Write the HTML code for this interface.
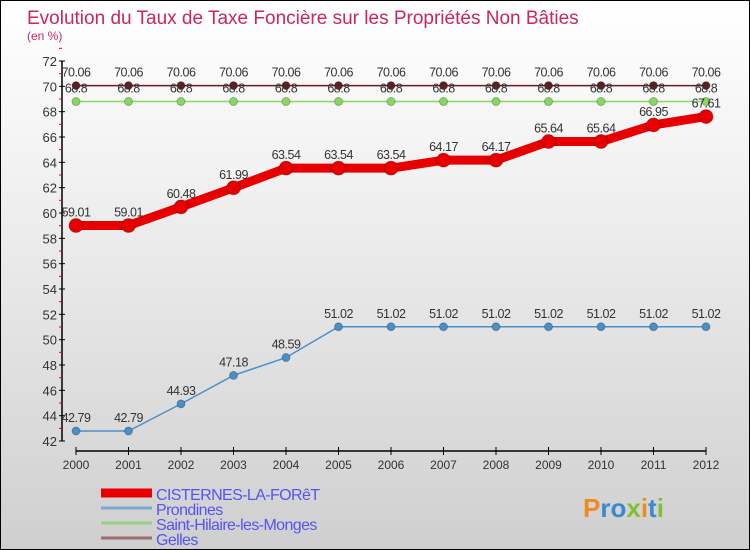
<!DOCTYPE html>
<html><head><meta charset="utf-8"><style>
body{margin:0;}
#c{width:750px;height:550px;position:relative;box-sizing:border-box;border:1px solid #000;background:linear-gradient(#fff 0%,#f2f2f2 30%,#cfcfcf 100%);font-family:"Liberation Sans",sans-serif;overflow:hidden;}
</style></head><body>
<div id="c">
<svg id="s" width="750" height="550" style="position:absolute;left:0;top:0">
<text x="26" y="23" font-size="19" fill="#c8285a">Evolution du Taux de Taxe Foncière sur les Propriétés Non Bâties</text>
<text x="26" y="39" font-size="12" fill="#c8285a">(en %)</text>
<g id="g"></g>
<text x="582" y="516" font-size="26" font-weight="bold"><tspan fill="#f08a20">P</tspan><tspan fill="#3a8ad0">ro</tspan><tspan fill="#80c030">x</tspan><tspan fill="#f08a20">i</tspan><tspan fill="#3a8ad0">t</tspan><tspan fill="#80c030">i</tspan></text>
</svg>
</div>
<script>
const years=[2000,2001,2002,2003,2004,2005,2006,2007,2008,2009,2010,2011,2012];
const cisternes=[59.01,59.01,60.48,61.99,63.54,63.54,63.54,64.17,64.17,65.64,65.64,66.95,67.61];
const prondines=[42.79,42.79,44.93,47.18,48.59,51.02,51.02,51.02,51.02,51.02,51.02,51.02,51.02];
const sainthilaire=[68.8,68.8,68.8,68.8,68.8,68.8,68.8,68.8,68.8,68.8,68.8,68.8,68.8];
const gelles=[70.06,70.06,70.06,70.06,70.06,70.06,70.06,70.06,70.06,70.06,70.06,70.06,70.06];
const yTicks=[42,44,46,48,50,52,54,56,58,60,62,64,66,68,70,72];
const NS="http://www.w3.org/2000/svg";
const g=document.getElementById('g');
const X=i=>75+i*52.5;
const Y=v=>60+(72-v)*12.667;
function el(t,a,name){const e=document.createElementNS(NS,t);for(const k in a)e.setAttribute(k,a[k]);


g.appendChild(e);return e;}
el('line',{x1:61,y1:Y(72),x2:61,y2:Y(42),stroke:'#000','stroke-width':1.5},'y-axis');
yTicks.forEach(v=>{el('line',{x1:58,x2:64,y1:Y(v),y2:Y(v),stroke:'#000'},'y-tick');
el('line',{x1:58,x2:61,y1:Y(v+1),y2:Y(v+1),stroke:'#e00'},'y-minor-tick');
const t=el('text',{x:56,y:Y(v)+5,'text-anchor':'end','font-size':13,fill:'#333'},'y-tick-label');t.textContent=v;});
el('line',{x1:X(0),y1:450,x2:X(12),y2:450,stroke:'#000','stroke-width':1.5},'x-axis');
years.forEach((yr,i)=>{el('line',{x1:X(i),x2:X(i),y1:446,y2:454,stroke:'#000'},'x-tick');
const t=el('text',{x:X(i),y:468,'text-anchor':'middle','font-size':12,fill:'#333'},'x-tick-label');t.textContent=yr;});
function series(d,color,w,r,name,fmt){
el('polyline',{points:d.map((v,i)=>X(i)+','+Y(v)).join(' '),fill:'none',stroke:color,'stroke-width':w,'stroke-linejoin':'round'},name+'-line');
d.forEach((v,i)=>{el('circle',{cx:X(i),cy:Y(v),r:r,fill:color,stroke:'rgba(0,0,0,0.25)'},name+'-point');
const t=el('text',{x:X(i),y:Y(v)-9,'text-anchor':'middle','font-size':12.5,fill:'#333','letter-spacing':'-0.5'},name+'-value-label');t.textContent=fmt(v);});}
series(gelles,'#6a1a1a',1.5,4,'gelles',v=>v.toFixed(2));
series(sainthilaire,'#88d860',1.5,4,'saint-hilaire',v=>String(v));
series(prondines,'#4a90c8',1.5,4,'prondines',v=>v.toFixed(2));
series(cisternes,'#e80000',9,7,'cisternes',v=>v.toFixed(2));
const leg=[['CISTERNES-LA-FORêT','#e80000',9],['Prondines','#7aaad0',3],['Saint-Hilaire-les-Monges','#98d080',3],['Gelles','#987070',3]];
leg.forEach((l,i)=>{const y=492+i*15;
el('line',{x1:100,x2:151,y1:y,y2:y,stroke:l[1],'stroke-width':l[2]},'legend-swatch');
const t=el('text',{x:155,y:y+7,'font-size':16,fill:'#5555ee','letter-spacing':'-0.6'},'legend-entry');t.textContent=l[0];});
</script>
</body></html>
